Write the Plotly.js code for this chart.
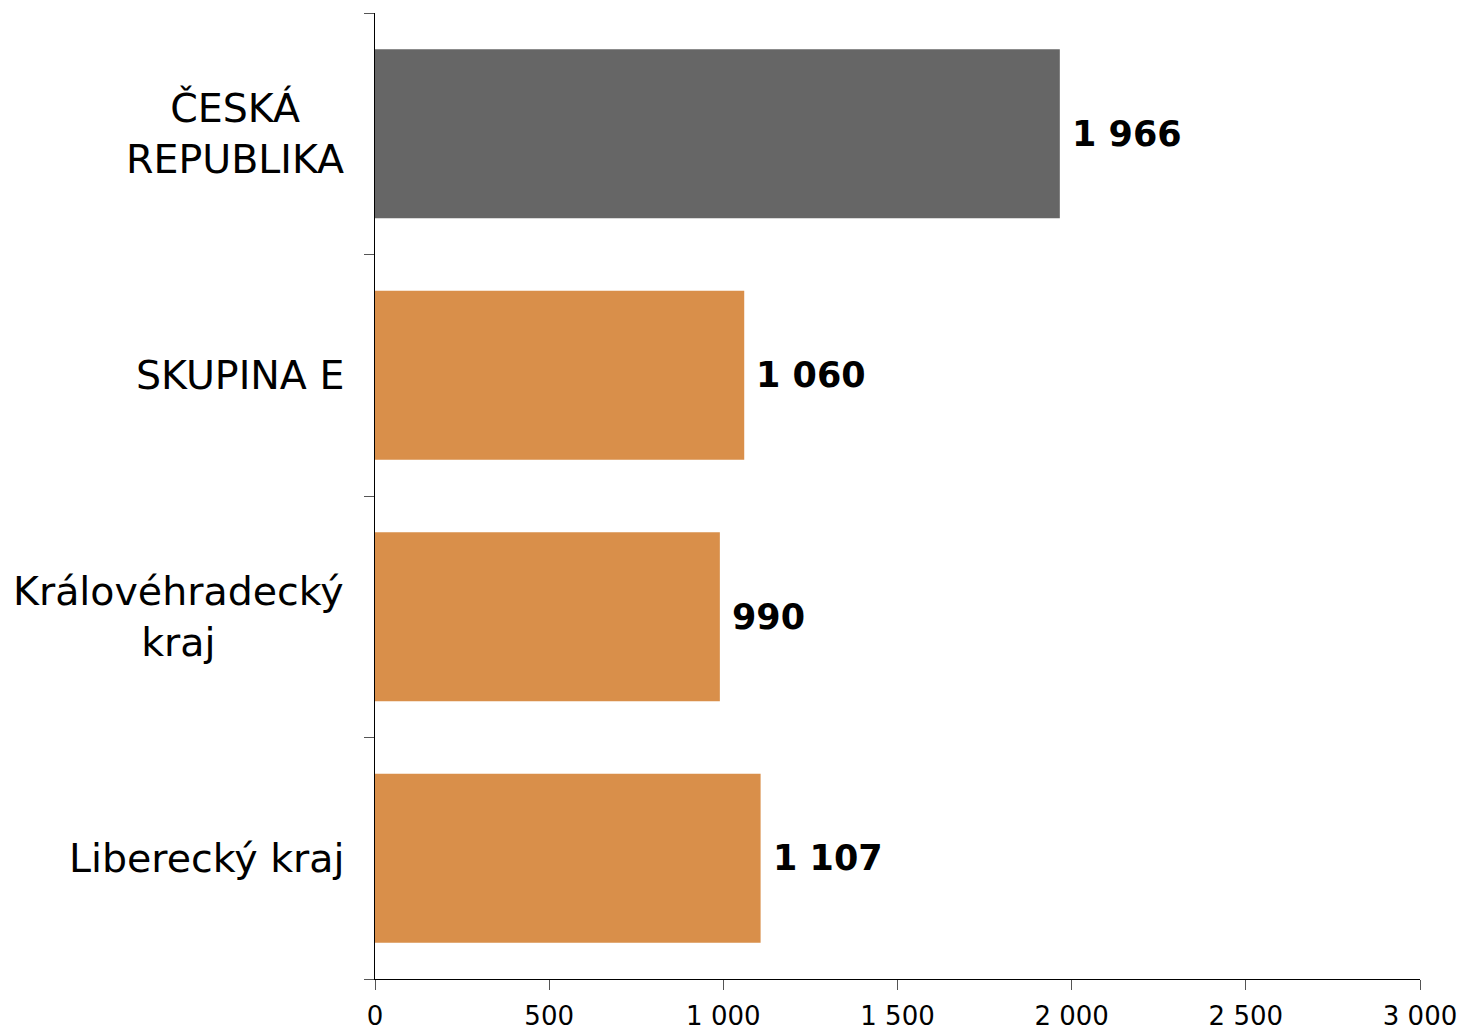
<!DOCTYPE html>
<html><head><meta charset="utf-8">
<script src="https://cdn.plot.ly/plotly-3.0.1.min.js"></script>
<style>body{margin:0;background:#fff}#chart{width:1463px;height:1033px}</style>
</head><body><div id="chart"></div>
<script>
const categories = ["ČESKÁ REPUBLIKA", "SKUPINA E", "Královéhradecký kraj", "Liberecký kraj"];
const labels = ["ČESKÁ<br>REPUBLIKA", "SKUPINA E", "Královéhradecký<br>kraj", "Liberecký kraj"];
const values = [1966, 1060, 990, 1107];
const colors = ["#666666", "#D98F4A", "#D98F4A", "#D98F4A"];
const tickVals = [0, 500, 1000, 1500, 2000, 2500, 3000];

function fmt(v){ return String(v).replace(/\B(?=(\d{3})+(?!\d))/g, " "); }

const FONT = "DejaVu Sans, Verdana, sans-serif";
const trace = {
  type: "bar", orientation: "h",
  x: values, y: categories,
  marker: {color: colors},
  hoverinfo: "none"
};
const annotations = [];
categories.forEach((c, i) => {
  annotations.push({x: values[i], y: c, xref: "x", yref: "y", text: "<b>" + fmt(values[i]) + "</b>",
    showarrow: false, xanchor: "left", xshift: 10, font: {family: FONT, size: 35, color: "#000"}});
  annotations.push({x: 0, y: c, xref: "paper", yref: "y", text: labels[i], align: "center",
    showarrow: false, xanchor: "right", xshift: -29, font: {family: FONT, size: 39.5, color: "#000"}});
});
const layout = {
  width: 1463, height: 1033,
  margin: {l: 375, r: 43, t: 13, b: 54},
  paper_bgcolor: "#fff", plot_bgcolor: "#fff",
  separators: ", ",
  bargap: 0.3,
  showlegend: false,
  font: {family: FONT, color: "#000"},
  xaxis: {range: [0, 3000], tickvals: tickVals, ticktext: tickVals.map(fmt),
    showgrid: false, zeroline: false, showline: true, linecolor: "#000", linewidth: 1.2,
    ticks: "outside", ticklen: 10, tickcolor: "#555", ticklabelstandoff: 4,
    tickfont: {family: FONT, size: 26, color: "#000"}},
  yaxis: {type: "category", categoryorder: "array", categoryarray: categories.slice().reverse(),
    showticklabels: false, showgrid: false, zeroline: false, showline: true, linecolor: "#000", linewidth: 1.2,
    ticks: "outside", tickson: "boundaries", ticklen: 10, tickcolor: "#555"},
  annotations: annotations
};
Plotly.newPlot("chart", [trace], layout, {displayModeBar: false, staticPlot: true});
</script></body></html>
